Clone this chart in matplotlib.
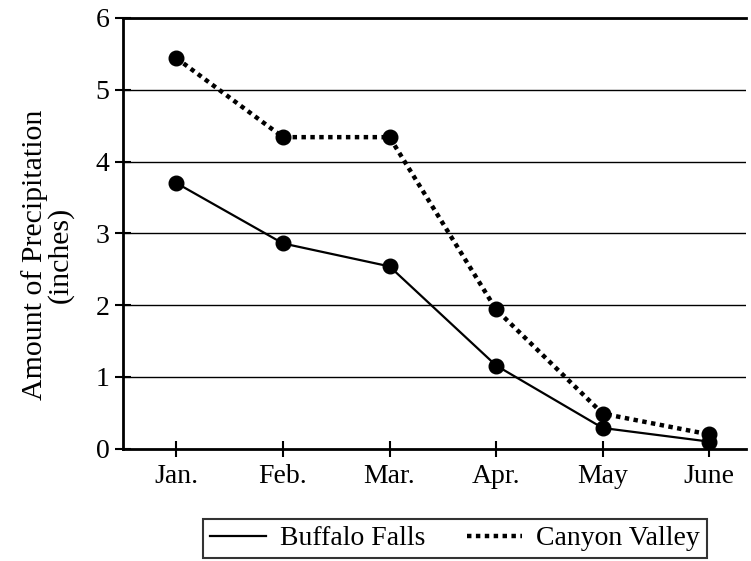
import matplotlib
matplotlib.use("Agg")
import matplotlib.pyplot as plt

months = ["Jan.", "Feb.", "Mar.", "Apr.", "May", "June"]
buffalo_falls = [3.70, 2.86, 2.54, 1.16, 0.29, 0.10]
canyon_valley = [5.44, 4.34, 4.34, 1.94, 0.49, 0.20]
y_ticks = [0, 1, 2, 3, 4, 5, 6]

plt.rcParams['font.family'] = ['Liberation Serif', 'DejaVu Serif']

fig = plt.figure(figsize=(7.51, 5.61), dpi=100)
ax = fig.add_axes([0.164, 0.2, 0.83, 0.768])

x = list(range(len(months)))
for yv in y_ticks[1:]:
    ax.axhline(yv, color='black', lw=1.0, zorder=1)

ax.plot(x, buffalo_falls, color='black', lw=1.6, marker='o', markersize=10.5,
        label='Buffalo Falls', zorder=3)
ax.plot(x, canyon_valley, color='black', lw=3.2, linestyle=(0, (1, 1)),
        dash_capstyle='butt', marker='o', markersize=10.5,
        label='Canyon Valley', zorder=3)

ax.set_xlim(-0.5, 5.35)
ax.set_ylim(0, 6)
ax.set_xticks(x)
ax.set_xticklabels(months)
ax.set_yticks(y_ticks)
ax.tick_params(axis='both', direction='inout', length=12, width=1.5,
               labelsize=20, color='black')
ax.tick_params(axis='x', pad=5)
ax.tick_params(axis='y', pad=4)
ax.spines['right'].set_visible(False)
for s in ['left', 'bottom']:
    ax.spines[s].set_linewidth(2)
ax.spines['top'].set_linewidth(2)

ax.set_ylabel("Amount of Precipitation\n(inches)", fontsize=21.5,
              linespacing=0.9)
ax.yaxis.set_label_coords(-0.08, 0.45)

leg = fig.legend(loc='lower center', bbox_to_anchor=(0.606, 0.0), ncol=2,
                 fontsize=20, frameon=True, fancybox=False, handlelength=2.0,
                 columnspacing=1.5, handletextpad=0.5, borderpad=0.25,
                 borderaxespad=0.1)
leg.get_frame().set_edgecolor('black')
leg.get_frame().set_linewidth(1.5)
for h in leg.legend_handles:
    h.set_marker('')

fig.savefig("out.png", dpi=100)
